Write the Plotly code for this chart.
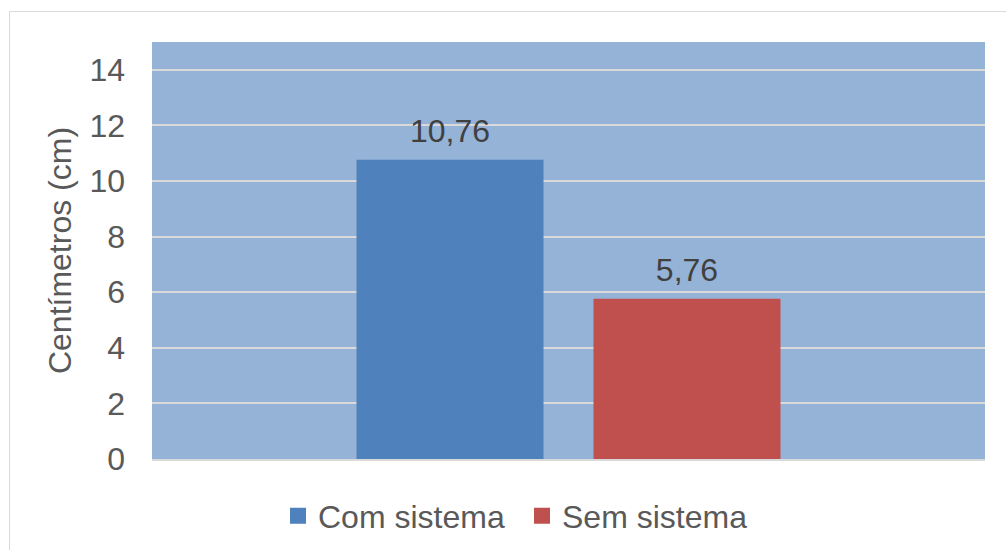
import plotly.graph_objects as go

categories = ["Tratamento"]
series_names = ["Com sistema", "Sem sistema"]
series_values = [[10.76], [5.76]]
series_colors = ["#4F81BD", "#C0504D"]
y_ticks = [0, 2, 4, 6, 8, 10, 12, 14]

W, H = 1006, 550
L, R, T, B = 152, 21, 42, 91
pw, ph = W - L - R, H - T - B
LABEL_PAD = 0.3  # extra gap (axis units) between bar top and its value label

def px_x(p):
    return (p - L) / pw

def px_y(p):
    return (H - B - p) / ph

FONT = "Liberation Sans, Arial, sans-serif"
FS = 32
fig = go.Figure()
for i, (name, vals, col) in enumerate(zip(series_names, series_values, series_colors)):
    grp = "g%d" % i
    fig.add_trace(go.Bar(
        x=categories, y=vals, name=name, offsetgroup=grp,
        marker=dict(color=col, line=dict(width=0)), showlegend=False,
    ))
    # transparent spacer bar carrying the value label just above the bar
    fig.add_trace(go.Bar(
        x=categories, y=[LABEL_PAD] * len(vals), base=vals, offsetgroup=grp,
        customdata=vals, texttemplate="%{customdata:.2f}", textposition="outside",
        cliponaxis=False, marker=dict(color="rgba(0,0,0,0)", line=dict(width=0)),
        textfont=dict(family=FONT, size=FS, color="#404040"),
        showlegend=False, hoverinfo="skip",
    ))
    fig.add_trace(go.Scatter(
        x=[None], y=[None], mode="markers", name=name,
        marker=dict(symbol="square", size=16, color=col), showlegend=True,
    ))

fig.add_shape(type="rect", xref="paper", yref="paper",
              x0=px_x(9.5), x1=px_x(1006.5), y0=px_y(600), y1=px_y(11.5),
              line=dict(color="#D9D9D9", width=1), fillcolor="rgba(0,0,0,0)", layer="below")

fig.update_layout(
    width=W, height=H, margin=dict(l=L, r=R, t=T, b=B, autoexpand=False),
    paper_bgcolor="white", plot_bgcolor="#95B3D7",
    separators=",.",
    barmode="group", bargap=0.431, bargroupgap=0.211,
    font=dict(family=FONT, size=FS, color="#595959"),
    showlegend=True,
    legend=dict(orientation="h", x=px_x(278), xanchor="left", y=px_y(516), yanchor="middle",
                font=dict(family=FONT, size=FS, color="#595959"),
                bgcolor="rgba(0,0,0,0)", itemwidth=30, tracegroupgap=0,
                entrywidth=199, entrywidthmode="pixels", borderwidth=0),
    xaxis=dict(showticklabels=False, ticks="", showgrid=False, showline=True,
               linecolor="#D9D9D9", linewidth=2, zeroline=False),
    yaxis=dict(range=[0, 15], tickvals=y_ticks, ticktext=[str(v) for v in y_ticks],
               showgrid=True, gridcolor="#D9D9D9", gridwidth=2, zeroline=False,
               showline=False, ticks="", ticklabelstandoff=26,
               tickfont=dict(family=FONT, size=FS, color="#595959"),
               title=dict(text="Centímetros (cm)", standoff=8,
                          font=dict(family=FONT, size=FS, color="#595959"))),
)

fig.write_html("out.html")
